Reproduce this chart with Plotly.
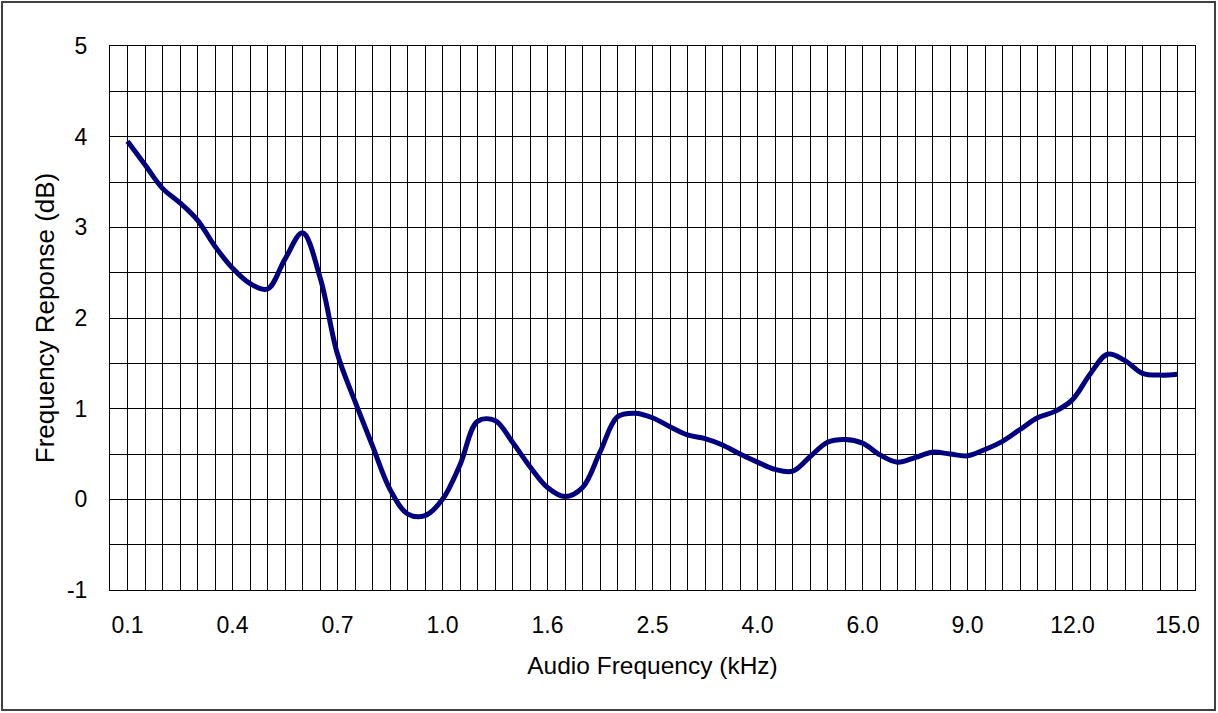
import plotly.graph_objects as go

# Category tick labels (every 6th category carries a label)
x_tick_labels = ["0.1", "0.4", "0.7", "1.0", "1.6", "2.5", "4.0", "6.0", "9.0", "12.0", "15.0"]
label_every = 6

# Frequency response (dB) at each of the 61 categories
response_db = [
    3.95, 3.69, 3.43, 3.27, 3.08, 2.79, 2.55, 2.38, 2.32, 2.65,
    2.94, 2.45, 1.60, 1.08, 0.59, 0.11, -0.16, -0.18, 0.00, 0.38,
    0.86, 0.87, 0.63, 0.36, 0.13, 0.03, 0.13, 0.52, 0.91, 0.95,
    0.90, 0.80, 0.71, 0.67, 0.60, 0.50, 0.41, 0.33, 0.31, 0.47,
    0.63, 0.66, 0.62, 0.49, 0.41, 0.46, 0.52, 0.50, 0.48, 0.55,
    0.64, 0.77, 0.90, 0.97, 1.10, 1.38, 1.60, 1.53, 1.39, 1.37,
    1.38,
]

y_ticks = [-1, 0, 1, 2, 3, 4, 5]

n = len(response_db)
x_idx = list(range(n))
tickvals = [i * label_every for i in range(len(x_tick_labels))]

FONT = "Liberation Sans, Arial, sans-serif"

fig = go.Figure()
fig.add_trace(go.Scatter(
    x=x_idx, y=response_db, mode="lines",
    line=dict(color="#000080", width=5, shape="spline", smoothing=1),
    showlegend=False, hoverinfo="skip",
))
# invisible trace on overlay axis so its tick marks render
fig.add_trace(go.Scatter(x=[x_idx[0]], y=[0], xaxis="x2", mode="markers",
                         marker=dict(opacity=0), showlegend=False, hoverinfo="skip"))

W, H = 1218, 713
L, R, T, B = 110, 23, 46, 123

fig.update_layout(
    width=W, height=H,
    margin=dict(l=L, r=R, t=T, b=B, autoexpand=False),
    paper_bgcolor="white", plot_bgcolor="white",
    font=dict(family=FONT, color="black", size=22),
    xaxis=dict(
        range=[-1, n], tickvals=tickvals, ticktext=x_tick_labels,
        showgrid=True, gridcolor="black", gridwidth=1,
        minor=dict(dtick=1, tick0=0, showgrid=True, gridcolor="black", gridwidth=1),
        showline=True, linecolor="black", linewidth=1, mirror=True,
        ticks="", ticklabelstandoff=14,
        tickfont=dict(size=23),
        zeroline=False,
        title=dict(text="Audio Frequency (kHz)", font=dict(size=24.5), standoff=20),
    ),
    xaxis2=dict(
        overlaying="x", anchor="free", position=1 / 6, range=[-1, n],
        dtick=1, tick0=0, ticks="inside", ticklen=3, tickcolor="black",
        showticklabels=False, showgrid=False, showline=False, zeroline=False,
    ),
    yaxis=dict(
        range=[-1, 5], tickvals=y_ticks, ticktext=[str(v) for v in y_ticks],
        showgrid=True, gridcolor="black", gridwidth=1,
        minor=dict(dtick=0.5, showgrid=True, gridcolor="black", gridwidth=1),
        showline=True, linecolor="black", linewidth=1, mirror=True,
        ticks="", ticklabelstandoff=17,
        tickfont=dict(size=23), zeroline=False,
        title=dict(text="Frequency Reponse (dB)", font=dict(size=26), standoff=4),
    ),
)

# outer chart frame
pw, ph = W - L - R, H - T - B
def px_x(p): return (p - L) / pw
def px_y(p): return (H - B - p) / ph
fig.add_shape(type="rect", xref="paper", yref="paper",
              x0=px_x(2), x1=px_x(1215), y0=px_y(710), y1=px_y(2),
              line=dict(color="#404040", width=2), fillcolor="rgba(0,0,0,0)", layer="below")

fig.write_html("out.html", config={"displayModeBar": False},
               post_script="document.body.style.margin='0';document.body.style.padding='0';")
